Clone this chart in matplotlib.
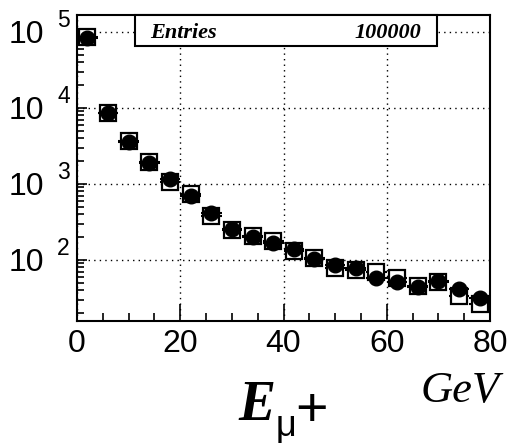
import numpy as np
import matplotlib
matplotlib.use('Agg')
import matplotlib.pyplot as plt
from matplotlib.patches import Rectangle
from matplotlib.ticker import LogLocator, MultipleLocator, NullFormatter
from matplotlib.transforms import offset_copy

# Histogram contents, 4 GeV bins from 0 to 80
BIN_LO = 0
BIN_W = 4
data_counts = [83400, 8500, 3600, 1900, 1150, 695, 412, 253, 200, 166,
               140, 102, 85, 79, 58.5, 51, 44, 53.4, 41, 31.3]
mc_counts = [85600, 8700, 3700, 1950, 1070, 740, 380, 250, 205, 178,
             132, 105, 78, 74, 70, 57.5, 46, 51, 33.6, 26.4]
n_entries = 100000
decades = [2, 3, 4, 5]
xticks = [0, 20, 40, 60, 80]

SANS = 'Liberation Sans'
SERIF = 'Liberation Serif'

centers = BIN_LO + BIN_W * (np.arange(len(data_counts)) + 0.5)

W, H = 510, 443
fig = plt.figure(figsize=(W / 100, H / 100), dpi=100)
ax = fig.add_axes([77 / W, 1 - 321 / H, 413 / W, 306 / H])

# open squares first, filled circles on top
ax.errorbar(centers, mc_counts, xerr=BIN_W / 2, fmt='s', ms=11,
            mfc='white', mec='black', mew=1.6, ecolor='black',
            elinewidth=1.5, capsize=0, zorder=3)
ax.errorbar(centers, data_counts, xerr=BIN_W / 2, fmt='o', ms=10.5,
            mfc='black', mec='black', ecolor='black',
            elinewidth=1.5, capsize=0, zorder=4)

ax.set_yscale('log')
ax.set_xlim(0, 80)
ax.set_ylim(15.7, 1.67e5)

ax.set_xticks(xticks)
ax.xaxis.set_minor_locator(MultipleLocator(5))
ax.set_yticks([10 ** d for d in decades])
ax.yaxis.set_minor_locator(LogLocator(base=10, subs=np.arange(2, 10)))
ax.yaxis.set_minor_formatter(NullFormatter())
ax.set_yticklabels(['10'] * len(decades))
ax.set_xticklabels([str(v) for v in xticks])

ax.tick_params(axis='both', which='both', direction='in', top=False,
               right=False, width=1.2, labelsize=23)
ax.tick_params(axis='x', which='major', length=12, pad=6)
ax.tick_params(axis='x', which='minor', length=5.5)
ax.tick_params(axis='y', which='major', length=7, pad=24)
ax.tick_params(axis='y', which='minor', length=5)
for lab in ax.get_xticklabels() + ax.get_yticklabels():
    lab.set_fontfamily(SANS)

# exponents of the decade labels
trans = offset_copy(ax.get_yaxis_transform(), fig=fig, x=0, y=5, units='dots')
for d in decades:
    ax.text(-0.048, 10 ** d, str(d), transform=trans, fontsize=16.5,
            family=SANS, ha='left', va='baseline', clip_on=False)

ax.grid(which='major', color='black', linestyle=(0, (1, 3)), linewidth=1)
for sp in ax.spines.values():
    sp.set_linewidth(1.5)

# statistics box
box_x0, box_x1 = (135 - 77) / 413, (437 - 77) / 413
box_y0 = (321 - 46) / 306
ax.add_patch(Rectangle((box_x0, box_y0), box_x1 - box_x0, 1 - box_y0,
                       transform=ax.transAxes, facecolor='white',
                       edgecolor='black', linewidth=1.5, zorder=5,
                       clip_on=False))
ax.text((150 - 77) / 413, (321 - 38) / 306, 'Entries', transform=ax.transAxes,
        fontsize=16, family=SERIF, weight='bold', style='italic',
        ha='left', va='baseline', zorder=6)
ax.text((421 - 77) / 413, (321 - 38) / 306, str(n_entries),
        transform=ax.transAxes, fontsize=16, family=SERIF, weight='bold',
        style='italic', ha='right', va='baseline', zorder=6)

# axis title
fig.text(238 / W, 1 - 420 / H, 'E', fontsize=40, family=SERIF,
         weight='bold', style='italic', ha='left', va='baseline')
fig.text(276 / W, 1 - 436 / H, '\u03bc', fontsize=26, family=SANS,
         ha='left', va='baseline')
fig.text(295 / W, 1 - 426 / H, '+', fontsize=40, family=SANS,
         ha='left', va='baseline')
fig.text(500 / W, 1 - 402 / H, 'GeV', fontsize=32, family=SERIF,
         style='italic', ha='right', va='baseline')

fig.savefig('out.png', dpi=100)
